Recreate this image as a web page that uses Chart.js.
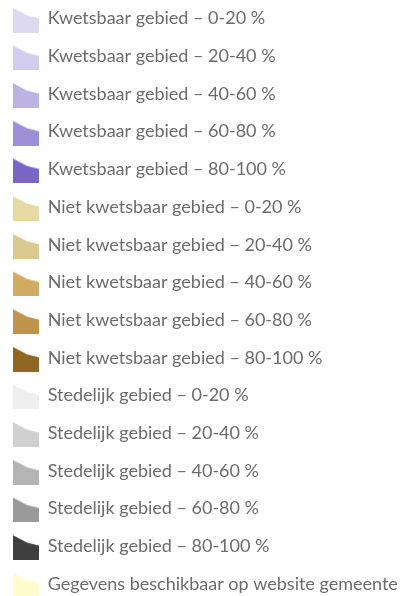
<!DOCTYPE html>
<html>
<head>
<meta charset="utf-8">
<script src="https://cdn.jsdelivr.net/npm/chart.js@4"></script>
<style>
  html, body { margin:0; padding:0; background:#ffffff; overflow:hidden; width:413px; height:596px; }
  #wrap { position:relative; width:413px; height:596px; overflow:hidden; }
  #c { position:absolute; left:-7px; top:-10px; }
</style>
</head>
<body>
<div id="wrap"><canvas id="c" width="460" height="700"></canvas></div>
<script>
const categories = [
  'Kwetsbaar gebied – 0-20 %',
  'Kwetsbaar gebied – 20-40 %',
  'Kwetsbaar gebied – 40-60 %',
  'Kwetsbaar gebied – 60-80 %',
  'Kwetsbaar gebied – 80-100 %',
  'Niet kwetsbaar gebied – 0-20 %',
  'Niet kwetsbaar gebied – 20-40 %',
  'Niet kwetsbaar gebied – 40-60 %',
  'Niet kwetsbaar gebied – 60-80 %',
  'Niet kwetsbaar gebied – 80-100 %',
  'Stedelijk gebied – 0-20 %',
  'Stedelijk gebied – 20-40 %',
  'Stedelijk gebied – 40-60 %',
  'Stedelijk gebied – 60-80 %',
  'Stedelijk gebied – 80-100 %',
  'Gegevens beschikbaar op website gemeente'
];
const colors = [
  '#dddaf0', '#d2cdee', '#bcb3e2', '#9c8fd6', '#7a66c7',
  '#e6d9a4', '#d9c890', '#d1ab61', '#bf944d', '#8e6724',
  '#efefef', '#d0d0d0', '#b4b4b4', '#9a9a9a', '#3f3f3f',
  '#fffbcc'
];
const values = categories.map(() => []);

function makeIcon(color) {
  const w = 26, h = 28, top = 3, sh = h - top;
  const cv = document.createElement('canvas');
  cv.width = w; cv.height = h;
  const g = cv.getContext('2d');
  g.fillStyle = color;
  g.beginPath();
  g.moveTo(0, top);
  g.lineTo(w * 0.55, top + sh * 0.3);
  g.lineTo(w, top + sh * 0.42);
  g.lineTo(w, h);
  g.lineTo(0, h);
  g.closePath();
  g.fill();
  return cv;
}
const icons = colors.map(makeIcon);

new Chart(document.getElementById('c'), {
  type: 'bar',
  data: {
    labels: [''],
    datasets: categories.map((label, i) => ({ label, data: values[i], backgroundColor: colors[i] }))
  },
  options: {
    responsive: false,
    animation: false,
    events: [],
    layout: { padding: 0 },
    scales: { x: { display: false }, y: { display: false } },
    plugins: {
      tooltip: { enabled: false },
      legend: {
        position: 'left',
        align: 'start',
        maxWidth: 460,
        labels: {
          usePointStyle: true,
          pointStyleWidth: 26,
          padding: 19.67,
          color: '#6c6c6c',
          font: { family: 'Lato', size: 18 },
          generateLabels(chart) {
            return chart.data.datasets.map((ds, i) => ({
              text: ds.label,
              fillStyle: colors[i],
              strokeStyle: colors[i],
              lineWidth: 0,
              pointStyle: icons[i],
              hidden: false,
              datasetIndex: i,
              fontColor: '#6c6c6c'
            }));
          }
        }
      }
    }
  }
});
</script>
</body>
</html>
